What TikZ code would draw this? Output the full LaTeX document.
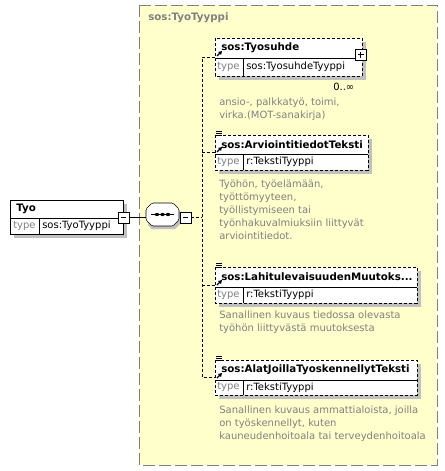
\documentclass[tikz,border=0pt]{standalone}
\usepackage{fontspec}
\setmainfont{DejaVu Sans}
\usetikzlibrary{calc,positioning}
\definecolor{panelyellow}{RGB}{255,255,204}
\definecolor{docgray}{RGB}{128,128,128}
\definecolor{shadowgray}{RGB}{192,192,192}
\tikzset{
  smalltxt/.style={font=\fontsize{7.5}{9.75}\selectfont, inner sep=0pt},
  headtxt/.style={smalltxt, font=\bfseries\fontsize{7.7}{9.75}\selectfont, anchor=west},
  typetxt/.style={smalltxt, text=docgray, anchor=west},
  valtxt/.style={smalltxt, anchor=west},
  doctxt/.style={smalltxt, text=docgray, anchor=north west, align=left},
  optline/.style={dash pattern=on 2.25pt off 1.5pt},
}
% element box: name, x1, y1, x2, y2, y of separator, title, type
\newcommand{\elem}[8]
	{
	\fill[shadowgray] (#2+4,#3+4) rectangle (#4+4,#5+4);
	\draw[optline, fill=white] (#2,#3) rectangle (#4,#5);
	\draw (#2,#6) -- (#4,#6);
	\draw (#2+28,#6) -- (#2+28,#5);
	\node[headtxt] (#1-head) at (#2+6,{(#3+#6)/2}) {#7};
	\node[typetxt] (#1-type) at (#2+2,{(#6+#5)/2}) {type};
	\node[valtxt] (#1-val) at (#2+31,{(#6+#5)/2}) {#8};
	\coordinate (#1) at (#2,{(#3+#5)/2});
	% reference arrow
	\draw[line width=1pt] (#2+2,#6-2) -- (#2+5,#6-5);
	\fill (#2+7,#6-7) -- (#2+3,#6-6) -- (#2+6,#6-3) -- cycle;
	}
% documentation mark
\newcommand{\docmark}[2]
	{
	\foreach \k in {0,2,4}
		\draw (#1,#2-4+\k) -- (#1+6,#2-4+\k);
	}

\begin{document}
\begin{tikzpicture}[x=0.75pt,y=-0.75pt]
    \useasboundingbox (0,0) rectangle (445,471);
    \fill[white] (0,0) rectangle (445,471);

    % complex type panel
    \draw[docgray, fill=panelyellow, dash pattern=on 9pt off 3pt] (139,5) rectangle (437,465);
    \node[headtxt, text=docgray] (ttype) at (148,18) {sos:TyoTyyppi};

    % root element
    \fill[shadowgray] (14,204) rectangle (127,238);
    \draw[fill=white] (10,200) rectangle (123,234);
    \draw (10,218) -- (123,218);
    \draw (39,218) -- (39,234);
    \node[headtxt] (tyo) at (16,209) {Tyo};
    \node[typetxt] (tyo-type) at (13,226) {type};
    \node[valtxt] (tyo-val) at (42,226) {sos:TyoTyyppi};
    \draw[fill=white] (118,212) rectangle (129,223);
    \coordinate (tyo-minus) at (129,217.5);
    \draw (121,217.5) -- (126,217.5);

    % sequence compositor
    \fill[shadowgray] (152,207) -- (175,207) -- (183,215) -- (183,221) -- (175,229)
        -- (152,229) -- (148,225) -- (148,211) -- cycle;
    \draw[fill=white, rounded corners=1pt] (152,203) -- (173,203) -- (179,209) -- (179,220)
        -- (173,226) -- (152,226) -- (146,220) -- (146,209) -- cycle;
    \coordinate (seq-in) at (146,217.5);
    \draw (tyo-minus) -- (seq-in);
    \draw (151,214.5) -- (174,214.5);
    \foreach \d in {157,162.5,168}
        \fill (\d,214.5) ellipse (2.2 and 1.6);
    \draw[fill=white] (180,212) rectangle (191,223);
    \draw (183,217.5) -- (188,217.5);
    \coordinate (seq-out) at (191,217.5);

    % children
    \elem{tyosuhde}{215}{38}{362}{76}{58}{sos:Tyosuhde}{sos:TyosuhdeTyyppi}
    \draw[fill=white] (355,49) rectangle (366,60);
    \draw (357.5,54.5) -- (363.5,54.5) (360.5,51.5) -- (360.5,57.5);
    \node[valtxt] (tyosuhde-occ) at (333,87) {0..∞};
    \node[doctxt] (tyosuhde-doc) at (219,98) {ansio-, palkkatyö, toimi,\\virka.(MOT-sanakirja)};

    \elem{arvio}{215}{135}{368}{170}{154}{sos:ArviointitiedotTeksti}{r:TekstiTyyppi}
    \docmark{216}{135}
    \node[doctxt] (arvio-doc) at (219,180) {Työhön, työelämään,\\työttömyyteen,\\työllistymiseen tai\\työnhakuvalmiuksiin liittyvät\\arviointitiedot.};

    \elem{lahitul}{215}{267}{417}{303}{287}{sos:LahitulevaisuudenMuutoks...}{r:TekstiTyyppi}
    \docmark{216}{267}
    \node[doctxt] (lahitul-doc) at (219,311) {Sanallinen kuvaus tiedossa olevasta\\työhön liittyvästä muutoksesta};

    \elem{alat}{215}{360}{417}{395}{380}{sos:AlatJoillaTyoskennellytTeksti}{r:TekstiTyyppi}
    \docmark{216}{360}
    \node[doctxt] (alat-doc) at (219,406) {Sanallinen kuvaus ammattialoista, joilla\\on työskennellyt, kuten\\kauneudenhoitoala tai terveydenhoitoala};

    % connectors
    \coordinate (bus) at (202,217.5);
    \draw[optline] (seq-out) -- (bus);
    \draw[optline] (tyosuhde) -| (202,0 |- alat) -- (alat);
    \draw[optline] (202,0 |- arvio) -- (arvio);
    \draw[optline] (202,0 |- lahitul) -- (lahitul);
\end{tikzpicture}
\end{document}
